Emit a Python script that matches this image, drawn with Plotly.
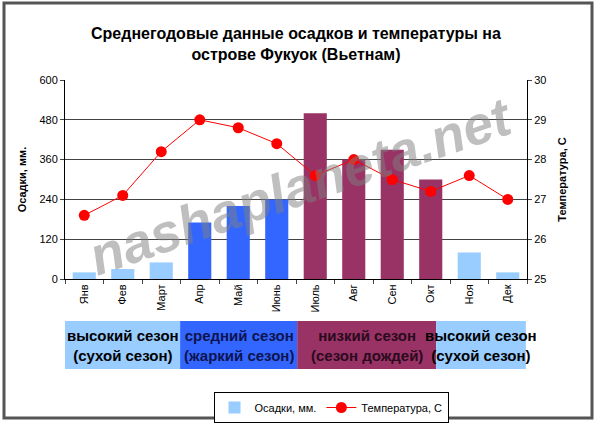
import plotly.graph_objects as go

months = ["Янв", "Фев", "Март", "Апр", "Май", "Июнь", "Июль", "Авг", "Сен", "Окт", "Ноя", "Дек"]
rain_mm = [20, 30, 50, 170, 220, 240, 500, 360, 390, 300, 80, 20]
temp_c = [26.6, 27.1, 28.2, 29.0, 28.8, 28.4, 27.6, 28.0, 27.5, 27.2, 27.6, 27.0]
bar_colors = ["#99CCFF"] * 3 + ["#3366FF"] * 3 + ["#993366"] * 4 + ["#99CCFF"] * 2

season_labels = ["высокий сезон<br>(сухой сезон)", "средний сезон<br>(жаркий сезон)",
                 "низкий сезон<br>(сезон дождей)", "высокий сезон<br>(сухой сезон)"]
season_start = [-0.5, 2.49, 5.53, 9.14]
season_end = [2.49, 5.53, 9.14, 11.47]
season_fill = ["#99CCFF", "#3366FF", "#993366", "#99CCFF"]
season_text = ["#000000", "#0d1450", "#2a0a1c", "#000000"]

F = "Liberation Sans, Arial, sans-serif"

W, H = 600, 424
ML, MR, MT, MB = 65, 73, 80, 145
PW, PH = W - ML - MR, H - MT - MB


def px_x(x):
    return (x - ML) / PW


def px_y(y):
    return (H - MB - y) / PH


fig = go.Figure()
fig.add_trace(go.Bar(x=months, y=rain_mm, marker=dict(color=bar_colors, line=dict(width=0)),
                     name="Осадки, мм.", width=0.6))
fig.add_trace(go.Scatter(x=months, y=temp_c, yaxis="y2", mode="lines+markers",
                         line=dict(color="#FF0000", width=1),
                         marker=dict(color="#FF0000", size=11),
                         name="Температура, С"))

shapes = []
annotations = []
for s, e, c, lab, tc in zip(season_start, season_end, season_fill, season_labels, season_text):
    shapes.append(dict(type="rect", xref="x", yref="paper", x0=s, x1=e, y0=px_y(369), y1=px_y(321),
                       fillcolor=c, line=dict(width=0), layer="above"))
    annotations.append(dict(x=(s + e) / 2, y=px_y(345), xref="x", yref="paper", text="<b>" + lab + "</b>",
                            showarrow=False, font=dict(family=F, size=15, color=tc),
                            xanchor="center", yanchor="middle"))

# outer frame
shapes.append(dict(type="rect", xref="paper", yref="paper", x0=px_x(4), x1=px_x(592),
                   y0=px_y(418), y1=px_y(3),
                   line=dict(color="#555555", width=3), fillcolor="rgba(0,0,0,0)"))

annotations.append(dict(x=px_x(300), y=px_y(186), xref="paper", yref="paper",
                        text="<b><i>nashaplaneta.net</i></b>",
                        showarrow=False, textangle=-19, opacity=0.5,
                        font=dict(family=F, size=54, color="#808080")))

annotations.append(dict(x=0.5, y=px_y(44), xref="paper", yref="paper",
                        text="<b>Среднегодовые данные осадков и температуры на<br>острове Фукуок (Вьетнам)</b>",
                        showarrow=False, font=dict(family=F, size=16, color="#000000"),
                        xanchor="center", yanchor="middle"))

fig.update_layout(
    width=W, height=H,
    margin=dict(l=ML, r=MR, t=MT, b=MB, autoexpand=False),
    paper_bgcolor="white", plot_bgcolor="white",
    showlegend=True,
    legend=dict(orientation="h", x=px_x(331), xanchor="center", yref="paper", y=px_y(392), yanchor="top",
                bordercolor="#000000", borderwidth=1, font=dict(family=F, size=11, color="#000"),
                itemwidth=30, tracegroupgap=0),
    bargap=0.4,
    font=dict(family=F, size=11, color="#000"),
    xaxis=dict(type="category", showline=True, linecolor="#000", ticks="outside", ticklen=4,
               tickson="boundaries", tickangle=-90, tickfont=dict(size=11), showgrid=False,
               range=[-0.5, 11.5]),
    yaxis=dict(range=[0, 600], tickvals=[0, 120, 240, 360, 480, 600], showline=True,
               linecolor="#000", ticks="outside", ticklen=4, gridcolor="#444444", gridwidth=1,
               title=dict(text="<b>Осадки, мм.</b>", font=dict(size=11), standoff=10),
               zeroline=False),
    yaxis2=dict(range=[25, 30], tickvals=[25, 26, 27, 28, 29, 30], overlaying="y", side="right",
                showline=True, linecolor="#000", ticks="outside", ticklen=4, showgrid=False,
                title=dict(text="<b>Температура, С</b>", font=dict(size=11), standoff=12),
                zeroline=False),
    shapes=shapes,
    annotations=annotations,
)

fig.write_html("out.html")
